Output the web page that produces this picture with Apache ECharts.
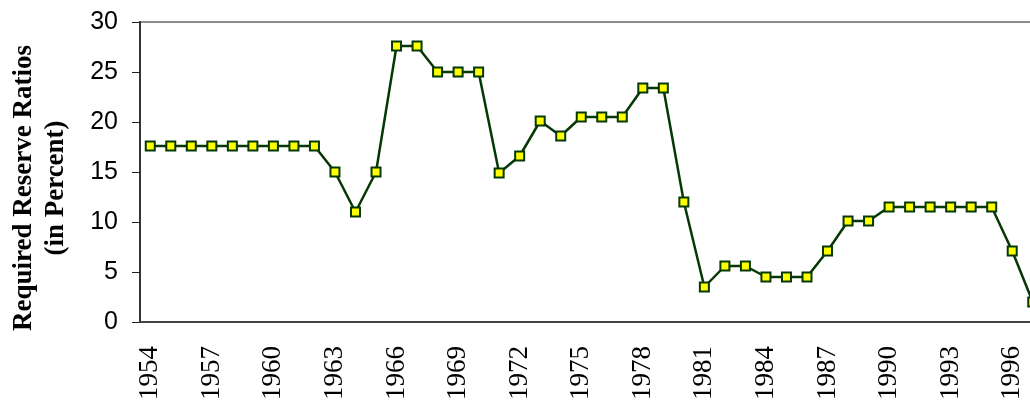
<!DOCTYPE html>
<html>
<head>
<meta charset="utf-8">
<script src="https://cdn.jsdelivr.net/npm/echarts@6/dist/echarts.min.js"></script>
<style>
html,body{margin:0;padding:0;background:#fff}
#main{width:1030px;height:403px}
</style>
</head>
<body>
<div id="main"></div>
<script>
// years 1954 - 1997
var years=[]
for(var y=1954;y<=1997;y++){
	years.push(y+'')
}

// required reserve ratios (in percent)
var ratios=[17.6,17.6,17.6,17.6,17.6,17.6,17.6,17.6,17.6,
	15,11,15,27.6,27.6,25,25,25,14.9,16.6,20.1,18.6,
	20.5,20.5,20.5,23.4,23.4,12,3.5,5.6,5.6,4.5,4.5,4.5,
	7.1,10.1,10.1,11.5,11.5,11.5,11.5,11.5,11.5,7.1,2.0]

var yTicks=[0,5,10,15,20,25,30]

var myChart=echarts.init(document.getElementById('main'))

var option={
	animation:false,
	grid:{
		left:140,
		top:22,
		bottom:81,
		right:-13,
		containLabel:false,
		outerBoundsMode:'none',
		show:true,
		borderColor:'#8c8c8c',
		borderWidth:2
	},
	xAxis:{
		type:'category',
		data:years,
		boundaryGap:true,
		axisLine:{lineStyle:{color:'#444',width:2}},
		axisTick:{inside:true,length:10,interval:0,lineStyle:{color:'#222',width:1}},
		axisLabel:{
			interval:2,
			rotate:90,
			margin:24,
			color:'#000',
			fontFamily:'Liberation Serif',
			fontSize:27
		},
		splitLine:{show:false}
	},
	yAxis:{
		type:'value',
		min:yTicks[0],
		max:yTicks[yTicks.length-1],
		interval:5,
		name:'Required Reserve Ratios\n(in Percent)',
		nameLocation:'middle',
		nameGap:68,
		nameTextStyle:{
			color:'#000',
			fontFamily:'Liberation Serif',
			fontWeight:'bold',
			fontSize:27,
			lineHeight:32,
			padding:[0,32,0,0]
		},
		axisLine:{show:true,lineStyle:{color:'#333',width:2}},
		axisTick:{show:true,length:8,lineStyle:{color:'#222',width:1}},
		axisLabel:{
			margin:22,
			color:'#000',
			fontFamily:'Liberation Sans',
			fontSize:25
		},
		splitLine:{show:false}
	},
	series:[{
		type:'line',
		data:ratios,
		symbol:'rect',
		symbolSize:9,
		lineStyle:{color:'#053805',width:2.5},
		itemStyle:{color:'#ffff00',borderColor:'#053805',borderWidth:2}
	}]
}

myChart.setOption(option)
</script>
</body>
</html>
